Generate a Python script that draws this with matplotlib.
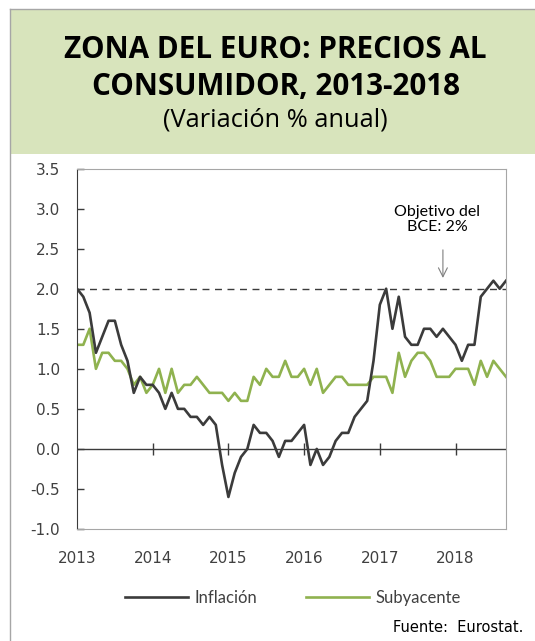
import matplotlib
matplotlib.use('Agg')
import matplotlib.pyplot as plt
from matplotlib.lines import Line2D
from matplotlib.patches import Rectangle

# monthly data, Jan 2013 - Sep 2018 (% annual change)
years = ['2013', '2014', '2015', '2016', '2017', '2018']
inflacion = [2.0, 1.9, 1.7, 1.2, 1.4, 1.6, 1.6, 1.3, 1.1, 0.7, 0.9, 0.8,
             0.8, 0.7, 0.5, 0.7, 0.5, 0.5, 0.4, 0.4, 0.3, 0.4, 0.3, -0.2,
             -0.6, -0.3, -0.1, 0.0, 0.3, 0.2, 0.2, 0.1, -0.1, 0.1, 0.1, 0.2,
             0.3, -0.2, 0.0, -0.2, -0.1, 0.1, 0.2, 0.2, 0.4, 0.5, 0.6, 1.1,
             1.8, 2.0, 1.5, 1.9, 1.4, 1.3, 1.3, 1.5, 1.5, 1.4, 1.5, 1.4,
             1.3, 1.1, 1.3, 1.3, 1.9, 2.0, 2.1, 2.0, 2.1]
subyacente = [1.3, 1.3, 1.5, 1.0, 1.2, 1.2, 1.1, 1.1, 1.0, 0.8, 0.9, 0.7,
              0.8, 1.0, 0.7, 1.0, 0.7, 0.8, 0.8, 0.9, 0.8, 0.7, 0.7, 0.7,
              0.6, 0.7, 0.6, 0.6, 0.9, 0.8, 1.0, 0.9, 0.9, 1.1, 0.9, 0.9,
              1.0, 0.8, 1.0, 0.7, 0.8, 0.9, 0.9, 0.8, 0.8, 0.8, 0.8, 0.9,
              0.9, 0.9, 0.7, 1.2, 0.9, 1.1, 1.2, 1.2, 1.1, 0.9, 0.9, 0.9,
              1.0, 1.0, 1.0, 0.8, 1.1, 0.9, 1.1, 1.0, 0.9]
objetivo = 2.0

months = list(range(len(inflacion)))
year_ticks = [12 * i for i in range(len(years))]

dark = '#3b3b3b'
green = '#8fb24f'
grey_txt = '#404040'

fig = plt.figure(figsize=(5.35, 6.41), dpi=100)

# title box
fig.add_artist(Rectangle((9.5 / 535, 487 / 641), 1.0, 145 / 641, transform=fig.transFigure,
                         facecolor='#d8e4bc', edgecolor='none', zorder=0))
fig.add_artist(Line2D([9.5 / 535, 1.0], [632 / 641, 632 / 641], transform=fig.transFigure,
                      color='#a6a6a6', lw=1))
fig.add_artist(Line2D([9.5 / 535, 9.5 / 535], [0, 632 / 641], transform=fig.transFigure,
                      color='#a6a6a6', lw=1))
fig.text(275 / 535, 1 - 50 / 641, 'ZONA DEL EURO: PRECIOS AL', ha='center', va='center',
         fontsize=21.3, fontweight='bold', family='Open Sans', color='black')
fig.text(276 / 535, 1 - 87 / 641, 'CONSUMIDOR, 2013-2018', ha='center', va='center',
         fontsize=21.3, fontweight='bold', family='Open Sans', color='black')
fig.text(275 / 535, 1 - 120 / 641, '(Variación % anual)', ha='center', va='center',
         fontsize=18.3, family='Open Sans', color='black')

ax = fig.add_axes([77 / 535, 112 / 641, 429 / 535, 360.4 / 641])
ax.plot(months, inflacion, color=dark, lw=1.9, label='Inflación', zorder=3)
ax.plot(months, subyacente, color=green, lw=1.9, label='Subyacente', zorder=2)
ax.axhline(objetivo, color=dark, lw=1, ls=(0, (5, 4)), zorder=1)
ax.axhline(0, color=dark, lw=1, zorder=1)
ax.vlines(year_ticks[1:], -0.07, 0.07, color=dark, lw=1)

ax.set_xlim(0, len(months) - 1)
ax.set_ylim(-1.0, 3.5)
ax.set_yticks([-1.0, -0.5, 0.0, 0.5, 1.0, 1.5, 2.0, 2.5, 3.0, 3.5])
ax.set_yticklabels(['%.1f' % v for v in ax.get_yticks()])
ax.set_xticks(year_ticks)
ax.set_xticklabels(years)
ax.tick_params(axis='y', direction='in', length=5, width=1, color=dark, pad=12,
               labelsize=11, labelcolor=grey_txt)
ax.tick_params(axis='x', length=0, pad=16, labelsize=11, labelcolor=grey_txt)
for s in ['top', 'right', 'bottom']:
    ax.spines[s].set_color('#a6a6a6')
ax.spines['left'].set_color(dark)

ax.text(57.1, 2.865, 'Objetivo del\nBCE: 2%', ha='center', va='center', fontsize=11.5,
        family='Lato', color='black', linespacing=1.15)
ax.annotate('', xy=(58, 2.1), xytext=(58, 2.52),
            arrowprops=dict(arrowstyle='->', color='#7f7f7f', lw=0.8, mutation_scale=16))

fig.legend(loc='center', bbox_to_anchor=(293 / 535, 1 - 598 / 641), ncol=2, frameon=False,
           prop={'family': 'Lato', 'size': 12}, labelcolor=grey_txt, handlelength=3.8,
           handletextpad=0.4, columnspacing=2.9)
fig.text(523 / 535, 1 - 628 / 641, 'Fuente:  Eurostat.', ha='right', va='center',
         fontsize=10.5, color='black')

fig.savefig('out.png', dpi=100)
